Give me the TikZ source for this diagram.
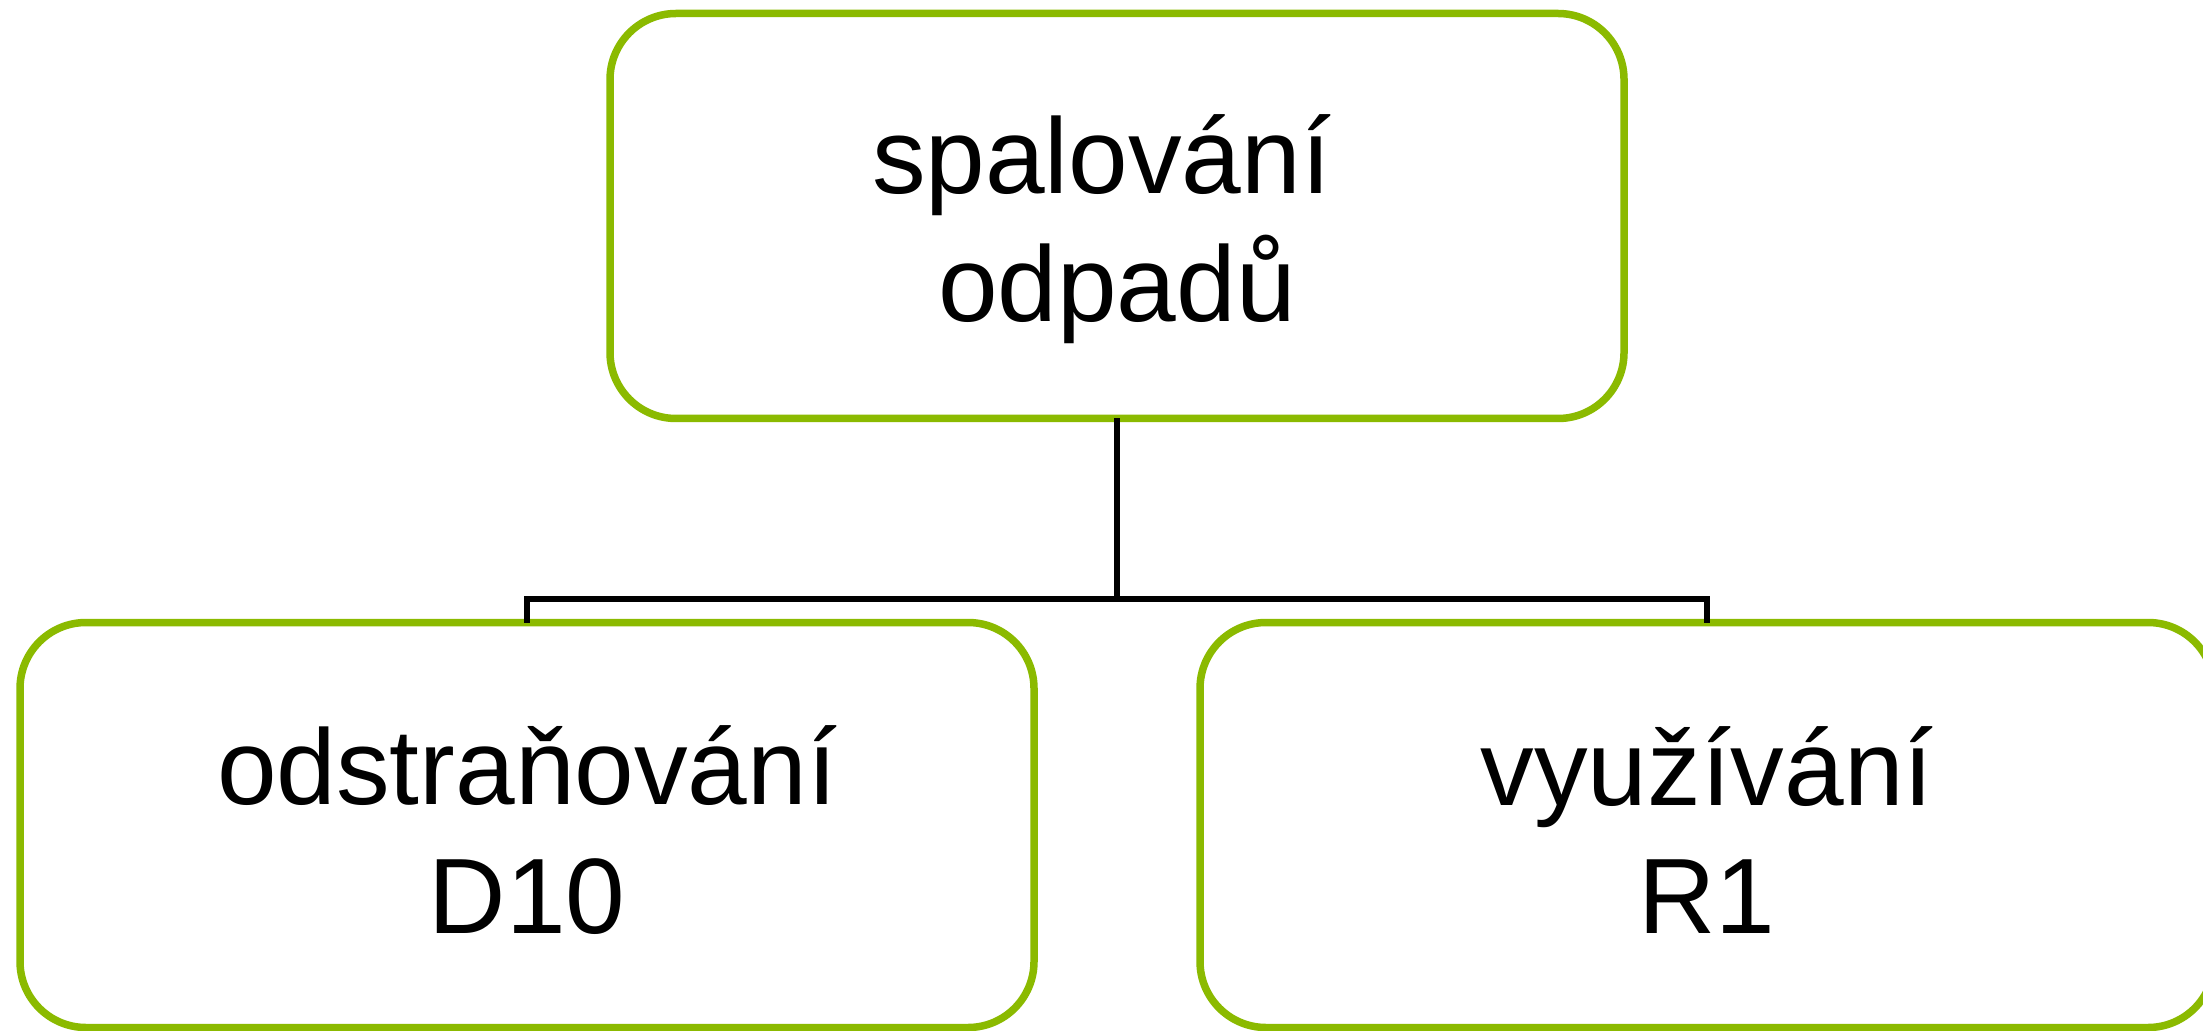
\documentclass[tikz,border=0pt]{standalone}
\usepackage{fontspec}
\setmainfont{Liberation Sans}
\usetikzlibrary{positioning}
\definecolor{boxgreen}{RGB}{139,186,0}

\begin{document}
\begin{tikzpicture}[
    box/.style={draw=boxgreen, line width=0.075cm, rounded corners=0.66cm, fill=white,
        minimum width=10.14cm, minimum height=4.05cm, outer sep=0pt, inner sep=0pt},
    boxtext/.style={align=center, inner sep=0pt, font=\fontsize{30.5}{36.5}\selectfont},
    link/.style={draw=black, line width=0.06cm}]
    \useasboundingbox (0,0) rectangle (22.03,10.30);
    \node [box] (spal) at (11.17,8.14) {};
    \node [box, below=2.04cm of spal, xshift=-5.90cm] (odst) {};
    \node [box, below=2.04cm of spal, xshift=5.90cm] (vyuz) {};
    \node [boxtext, yshift=-0.13cm] (spal-t) at (spal) {spalování\makebox[0.31cm]{}\\odpadů};
    \node [boxtext, yshift=-0.05cm] (odst-t) at (odst) {odstraňování\\D10};
    \node [boxtext, yshift=-0.05cm] (vyuz-t) at (vyuz) {využívání\\R1};
    \coordinate [below=1.80cm of spal.south] (fork);

    \draw [link] (spal.south) -- (fork);
    \draw [link] (fork) -| (odst.north);
    \draw [link] (fork) -| (vyuz.north);
\end{tikzpicture}
\end{document}
